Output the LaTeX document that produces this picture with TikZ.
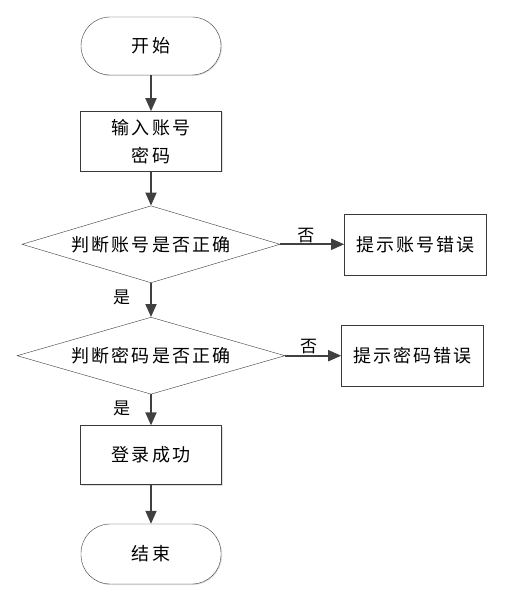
\documentclass[tikz,border=0pt]{standalone}
\usepackage{fontspec}
\usepackage{xcolor}
\usepackage{tikz}
\usetikzlibrary{arrows.meta,positioning,shapes.geometric,shadows}
\newfontfamily\cjk[LetterSpace=12]{Noto Sans CJK SC}
\definecolor{edge}{HTML}{404040}
\definecolor{frame}{HTML}{3A3A3A}
\tikzset{
  termbox/.style={
    rectangle, rounded corners=29pt, draw=frame, fill=white,
    minimum width=140pt, minimum height=58pt,
    font=\cjk\fontsize{18}{22}\selectfont, align=center,
    drop shadow={shadow xshift=1pt, shadow yshift=-1pt, opacity=0.25}
  },
  procbox/.style={
    rectangle, draw=frame, fill=white,
    minimum width=141pt, minimum height=60pt,
    font=\cjk\fontsize{18}{28}\selectfont, align=center,
    drop shadow={shadow xshift=1pt, shadow yshift=-1pt, opacity=0.25}
  },
  decide/.style={
    diamond, draw=frame, fill=white, inner sep=0pt, shape aspect=3.4,
    minimum width=#1, minimum height=77pt,
    font=\cjk\fontsize{18}{22}\selectfont
  },
  decide/.default=258pt,
  flow/.style={
    -{Triangle[length=13pt,width=11pt]}, line width=1.8pt, color=edge
  },
  tag/.style={font=\cjk\fontsize{17}{20}\selectfont, text=black, inner sep=1pt},
}

\begin{document}
\begin{tikzpicture}[x=1pt, y=1pt, node distance=35pt and 62pt]
\useasboundingbox (0,0) rectangle (511,-604);
\node[termbox] (start) at (151,-46) {开始};
\node[procbox, below=36pt of start] (input) {输入账号\\密码};
\node[decide, below=34pt of input] (check-user) {判断账号是否正确};
\node[procbox, minimum width=142pt, minimum height=61pt, right=64pt of check-user] (user-error) {提示账号错误};
\node[decide=268pt, below=34pt of check-user] (check-pass) {判断密码是否正确};
\node[procbox, minimum width=142pt, minimum height=61pt, right=56pt of check-pass] (pass-error) {提示密码错误};
\node[procbox, minimum height=59pt, below=31pt of check-pass] (login-ok) {登录成功};
\node[termbox, minimum height=60pt, below=39pt of login-ok] (stop) {结束};

\draw[flow] (start) -- (input);
\draw[flow] (input) -- (check-user);
\draw[flow] (check-user) -- (user-error)
  node[tag, pos=0.4, above] {否};
\draw[flow] (check-user) -- (check-pass)
  node[tag, pos=0.42, left=19pt] {是};
\draw[flow] (check-pass) -- (pass-error)
  node[tag, pos=0.42, above] {否};
\draw[flow] (check-pass) -- (login-ok)
  node[tag, pos=0.45, left=19pt] {是};
\draw[flow] (login-ok) -- (stop);
\end{tikzpicture}
\end{document}
